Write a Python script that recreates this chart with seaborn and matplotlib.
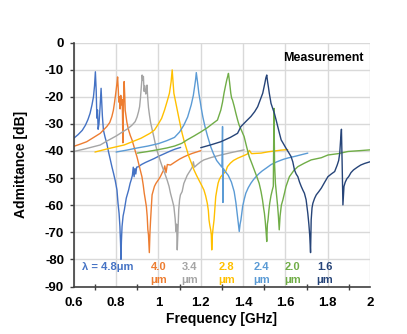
import numpy as np
import pandas as pd
import matplotlib
matplotlib.use("Agg")
import matplotlib.pyplot as plt
import seaborn as sns
from matplotlib.ticker import MultipleLocator

# ---------------- data ----------------
wavelengths = ["4.8", "4.0", "3.4", "2.8", "2.4", "2.0", "1.6"]
colors = ["#4472C4", "#ED7D31", "#A5A5A5", "#FFC000", "#5B9BD5", "#70AD47", "#264478"]

f_48 = [0.600, 0.620, 0.640, 0.655, 0.667, 0.677, 0.686, 0.693, 0.698, 0.702, 0.706, 0.709, 0.712, 0.715,
        0.719, 0.724, 0.729, 0.732, 0.735, 0.740, 0.748, 0.756, 0.764, 0.772, 0.780, 0.788, 0.796, 0.804,
        0.809, 0.814, 0.818, 0.821, 0.823, 0.825, 0.828, 0.833, 0.839, 0.848, 0.859, 0.866, 0.872, 0.877,
        0.881, 0.885, 0.889, 0.893, 0.897, 0.906, 0.920, 0.940, 0.960, 0.980, 1.000, 1.020, 1.040, 1.060,
        1.080, 1.105]
y_48 = [-35.3, -34.0, -32.4, -30.5, -28.4, -26.1, -23.0, -20.0, -16.0, -10.8, -18.0, -27.9, -24.9, -32.0,
        -30.0, -24.0, -16.9, -22.0, -27.0, -32.3, -35.0, -37.2, -40.3, -43.0, -45.8, -48.3, -51.0, -54.4,
        -59.3, -63.0, -67.9, -74.0, -80.0, -73.4, -67.9, -64.0, -61.7, -57.4, -54.4, -52.0, -50.5, -49.0,
        -46.0, -49.5, -46.5, -48.5, -46.0, -45.8, -45.0, -44.2, -43.5, -42.8, -42.0, -41.3, -40.6, -39.9,
        -39.3, -38.7]

f_40 = [0.600, 0.630, 0.661, 0.690, 0.725, 0.756, 0.770, 0.780, 0.787, 0.792, 0.797, 0.801, 0.804, 0.807,
        0.810, 0.813, 0.816, 0.819, 0.822, 0.825, 0.828, 0.830, 0.832, 0.835, 0.838, 0.841, 0.843, 0.851,
        0.859, 0.867, 0.875, 0.883, 0.891, 0.899, 0.906, 0.914, 0.922, 0.928, 0.933, 0.938, 0.943, 0.947,
        0.950, 0.953, 0.957, 0.960, 0.963, 0.967, 0.970, 0.976, 0.981, 0.988, 0.994, 1.001, 1.009, 1.017,
        1.025, 1.030, 1.036, 1.042, 1.057, 1.080, 1.100, 1.120, 1.140, 1.160, 1.180, 1.200]
y_40 = [-38.3, -37.5, -36.6, -35.2, -33.5, -31.0, -29.5, -27.3, -25.0, -22.4, -19.5, -17.0, -15.0, -12.7,
        -17.0, -22.0, -20.0, -24.5, -19.5, -23.0, -21.0, -26.0, -37.0, -22.0, -14.4, -20.0, -25.0, -29.5,
        -32.3, -34.3, -35.9, -38.0, -40.2, -42.3, -44.5, -47.0, -49.5, -52.5, -55.6, -58.0, -60.5, -64.2,
        -69.0, -71.0, -77.5, -70.0, -65.4, -60.0, -56.2, -54.5, -53.1, -52.0, -51.3, -50.5, -49.5, -48.2,
        -47.0, -45.5, -48.0, -45.0, -45.2, -44.0, -43.0, -42.2, -41.5, -40.9, -40.4, -39.9]

f_34 = [0.600, 0.650, 0.700, 0.725, 0.760, 0.800, 0.830, 0.855, 0.875, 0.890, 0.899, 0.906, 0.911, 0.915,
        0.918, 0.921, 0.923, 0.926, 0.929, 0.932, 0.936, 0.940, 0.943, 0.946, 0.949, 0.953, 0.958, 0.963,
        0.970, 0.978, 0.987, 0.997, 1.008, 1.018, 1.030, 1.041, 1.050, 1.057, 1.065, 1.073, 1.079, 1.083,
        1.086, 1.089, 1.092, 1.096, 1.100, 1.104, 1.112, 1.120, 1.136, 1.152, 1.160, 1.165, 1.170, 1.184,
        1.200, 1.215, 1.250, 1.295, 1.350, 1.405]
y_34 = [-40.2, -39.3, -38.3, -37.8, -36.2, -34.5, -33.0, -31.8, -30.5, -29.2, -27.5, -25.5, -23.7, -20.5,
        -17.5, -14.5, -12.0, -14.0, -12.5, -18.0, -16.0, -19.0, -18.0, -15.7, -20.0, -24.0, -27.0, -29.5,
        -32.0, -34.7, -38.0, -40.8, -43.5, -45.8, -48.3, -50.7, -53.0, -55.6, -58.0, -60.5, -65.0, -69.7,
        -67.0, -76.5, -70.0, -61.7, -58.0, -56.2, -55.0, -52.0, -49.0, -47.0, -46.0, -44.0, -46.0, -45.0,
        -44.0, -43.3, -42.4, -41.5, -40.5, -39.6]

f_28 = [0.700, 0.760, 0.838, 0.918, 0.960, 0.981, 0.997, 1.015, 1.029, 1.042, 1.052, 1.060, 1.065, 1.069,
        1.073, 1.081, 1.089, 1.097, 1.105, 1.112, 1.120, 1.132, 1.144, 1.156, 1.168, 1.180, 1.191, 1.203,
        1.215, 1.223, 1.231, 1.236, 1.239, 1.243, 1.247, 1.250, 1.252, 1.255, 1.259, 1.263, 1.267, 1.271,
        1.277, 1.282, 1.288, 1.295, 1.306, 1.318, 1.326, 1.340, 1.355, 1.374, 1.395, 1.410, 1.421, 1.430,
        1.440, 1.460, 1.485, 1.520, 1.550, 1.580, 1.611]
y_28 = [-40.4, -39.2, -37.8, -35.3, -33.5, -32.3, -30.4, -28.0, -24.9, -21.5, -18.7, -14.5, -10.1, -14.5,
        -18.7, -21.8, -24.9, -28.0, -31.0, -33.5, -35.9, -39.0, -42.1, -44.5, -47.0, -49.0, -50.7, -52.5,
        -54.4, -56.5, -59.3, -62.0, -65.4, -67.5, -69.1, -71.0, -76.5, -71.0, -68.0, -65.4, -61.0, -56.8,
        -54.0, -51.9, -50.5, -49.5, -48.5, -47.6, -45.8, -44.5, -43.5, -42.7, -42.0, -41.5, -41.1, -39.8,
        -41.0, -40.9, -40.8, -40.3, -40.0, -39.7, -39.5]

f_24 = [0.800, 0.850, 0.900, 0.950, 1.000, 1.040, 1.076, 1.100, 1.120, 1.138, 1.155, 1.165, 1.171, 1.176,
        1.179, 1.183, 1.187, 1.191, 1.197, 1.203, 1.210, 1.220, 1.232, 1.247, 1.260, 1.275, 1.290, 1.300,
        1.303, 1.305, 1.307, 1.315, 1.330, 1.345, 1.358, 1.366, 1.372, 1.378, 1.382, 1.386, 1.390, 1.398,
        1.405, 1.413, 1.425, 1.437, 1.449, 1.461, 1.475, 1.490, 1.510, 1.533, 1.560, 1.590, 1.612, 1.650,
        1.680, 1.706]
y_24 = [-40.4, -39.7, -38.9, -38.2, -37.3, -36.2, -35.0, -33.0, -30.5, -27.5, -23.0, -19.5, -16.3, -13.5,
        -11.1, -13.5, -16.0, -18.7, -21.5, -24.5, -27.5, -31.0, -34.5, -38.4, -41.0, -43.5, -45.0, -46.0,
        -31.0, -59.0, -46.5, -47.5, -49.0, -51.5, -55.0, -59.0, -63.0, -67.0, -69.7, -67.0, -65.4, -60.5,
        -58.0, -55.6, -53.5, -51.9, -50.6, -49.5, -48.4, -47.4, -46.3, -45.0, -44.0, -43.1, -42.6, -41.9,
        -41.3, -40.8]

f_20 = [0.900, 0.950, 1.000, 1.040, 1.076, 1.110, 1.136, 1.170, 1.200, 1.230, 1.255, 1.279, 1.295, 1.303,
        1.310, 1.317, 1.323, 1.328, 1.331, 1.336, 1.342, 1.346, 1.350, 1.358, 1.366, 1.374, 1.381, 1.393,
        1.405, 1.417, 1.429, 1.441, 1.453, 1.465, 1.476, 1.485, 1.492, 1.497, 1.501, 1.505, 1.509, 1.512,
        1.515, 1.518, 1.522, 1.526, 1.532, 1.538, 1.543, 1.546, 1.549, 1.553, 1.558, 1.563, 1.567, 1.571,
        1.575, 1.581, 1.588, 1.596, 1.603, 1.619, 1.640, 1.659, 1.690, 1.722, 1.770, 1.801, 1.849, 1.896,
        1.950, 2.000]
y_20 = [-40.8, -40.2, -39.5, -38.9, -38.2, -37.2, -35.9, -34.4, -33.0, -31.5, -30.0, -28.6, -24.9, -22.0,
        -18.7, -16.0, -13.8, -12.3, -11.4, -14.5, -18.7, -20.5, -21.2, -23.5, -26.1, -28.5, -30.4, -32.5,
        -34.7, -38.5, -42.1, -44.5, -47.0, -49.5, -51.9, -55.0, -58.1, -61.0, -63.0, -66.0, -70.0, -73.4,
        -67.0, -65.4, -62.0, -59.3, -56.5, -54.5, -53.0, -24.3, -45.0, -52.0, -56.0, -60.0, -64.0, -69.1,
        -64.0, -60.0, -58.1, -55.5, -53.1, -49.5, -47.2, -45.8, -44.5, -43.3, -42.5, -41.5, -41.0, -40.2,
        -39.9, -39.6]

f_16 = [1.200, 1.250, 1.295, 1.340, 1.374, 1.390, 1.415, 1.437, 1.455, 1.469, 1.482, 1.493, 1.499, 1.503,
        1.508, 1.512, 1.516, 1.520, 1.524, 1.528, 1.532, 1.540, 1.548, 1.556, 1.564, 1.572, 1.580, 1.592,
        1.603, 1.615, 1.627, 1.635, 1.643, 1.651, 1.659, 1.667, 1.675, 1.683, 1.690, 1.698, 1.706, 1.711,
        1.715, 1.719, 1.722, 1.726, 1.730, 1.738, 1.746, 1.758, 1.770, 1.786, 1.801, 1.817, 1.833, 1.845,
        1.852, 1.857, 1.861, 1.865, 1.868, 1.872, 1.877, 1.883, 1.891, 1.899, 1.910, 1.922, 1.940, 1.956,
        1.975, 2.000]
y_16 = [-38.8, -37.7, -36.6, -35.0, -33.5, -31.0, -29.0, -27.3, -25.5, -23.7, -21.0, -18.7, -16.5, -15.0,
        -13.0, -12.0, -14.5, -16.5, -18.7, -20.5, -22.4, -24.3, -26.1, -28.5, -31.0, -33.5, -35.9, -37.5,
        -39.0, -40.5, -42.1, -44.0, -47.0, -48.5, -49.5, -51.5, -53.1, -54.5, -55.6, -58.0, -63.0, -67.0,
        -71.0, -77.5, -65.4, -61.0, -59.3, -57.5, -56.2, -55.0, -53.7, -51.5, -49.5, -48.5, -47.6, -45.2,
        -43.5, -40.8, -36.0, -32.0, -43.3, -59.9, -53.1, -51.5, -50.2, -49.5, -48.0, -47.0, -46.0, -45.2,
        -44.6, -44.0]

freqs = [f_48, f_40, f_34, f_28, f_24, f_20, f_16]
adms = [y_48, y_40, y_34, y_28, y_24, y_20, y_16]

x_ticks = [0.6, 0.8, 1.0, 1.2, 1.4, 1.6, 1.8, 2.0]
x_tick_labels = ["0.6", "0.8", "1", "1.2", "1.4", "1.6", "1.8", "2"]
y_ticks = list(range(0, -100, -10))

# ---------------- build long-form table ----------------
frames = []
for wl, f, y in zip(wavelengths, freqs, adms):
    frames.append(pd.DataFrame({"Frequency": f, "Admittance": y, "wl": wl}))
df = pd.concat(frames, ignore_index=True)

# ---------------- figure ----------------
sns.set_theme(style="white")
plt.rcParams["font.family"] = ["Liberation Sans", "DejaVu Sans"]
plt.rcParams["font.weight"] = "bold"

W, H = 407, 334
fig = plt.figure(figsize=(W / 100, H / 100), dpi=100)
ax_l, ax_r, ax_t, ax_b = 73.8, 370.0, 42.5, 286.5
ax = fig.add_axes([ax_l / W, 1 - ax_b / H, (ax_r - ax_l) / W, (ax_b - ax_t) / H])

sns.lineplot(data=df, x="Frequency", y="Admittance", hue="wl", units="wl",
             estimator=None, sort=False, palette=dict(zip(wavelengths, colors)),
             linewidth=1.0, legend=False, ax=ax)

ax.set_xlim(0.6, 2.0)
ax.set_ylim(-90, 0)
ax.set_xticks(x_ticks)
ax.set_xticklabels(x_tick_labels)
ax.xaxis.set_minor_locator(MultipleLocator(0.1))
ax.set_yticks(y_ticks)
ax.set_yticklabels([str(v) for v in y_ticks])

ax.grid(True, which="major", color="#D9D9D9", linewidth=1.0)
ax.set_axisbelow(True)
for s in ["top", "right"]:
    ax.spines[s].set_visible(False)
for s in ["left", "bottom"]:
    ax.spines[s].set_color("#404040")
    ax.spines[s].set_linewidth(1.2)

ax.tick_params(axis="x", which="major", direction="inout", length=5, width=1,
               color="#404040", labelsize=9.5, pad=5, labelcolor="black")
ax.tick_params(axis="x", which="minor", direction="inout", length=5, width=1,
               color="#404040", bottom=True)
ax.tick_params(axis="y", which="major", direction="out", length=3, width=1,
               color="#404040", labelsize=9.5, pad=4, labelcolor="black", left=True)
for lab in ax.get_xticklabels() + ax.get_yticklabels():
    lab.set_fontweight("bold")

ax.set_xlabel("Frequency [GHz]", fontsize=10, fontweight="bold", color="black")
ax.set_ylabel("Admittance [dB]", fontsize=10, fontweight="bold", color="black")
ax.xaxis.set_label_coords(0.5, -0.1025)
ax.xaxis.label.set_va("top")
ax.yaxis.set_label_coords(-0.155, 0.5)

ax.text(0.98, 0.924, "Measurement", transform=ax.transAxes, ha="right", va="baseline",
        fontsize=9, fontweight="bold", color="black")

# wavelength annotations
lab_x = [0.760, 1.001, 1.147, 1.322, 1.488, 1.634, 1.786]
for i, (wl, c, xx) in enumerate(zip(wavelengths, colors, lab_x)):
    if i == 0:
        ax.text(xx, -83.9, "λ = " + wl + "μm", color=c, ha="center", va="baseline",
                fontsize=8, fontweight="bold")
    else:
        ax.text(xx, -83.9, wl, color=c, ha="center", va="baseline", fontsize=8, fontweight="bold")
        ax.text(xx, -88.7, "μm", color=c, ha="center", va="baseline", fontsize=8, fontweight="bold")

fig.savefig("out.png", dpi=100)
